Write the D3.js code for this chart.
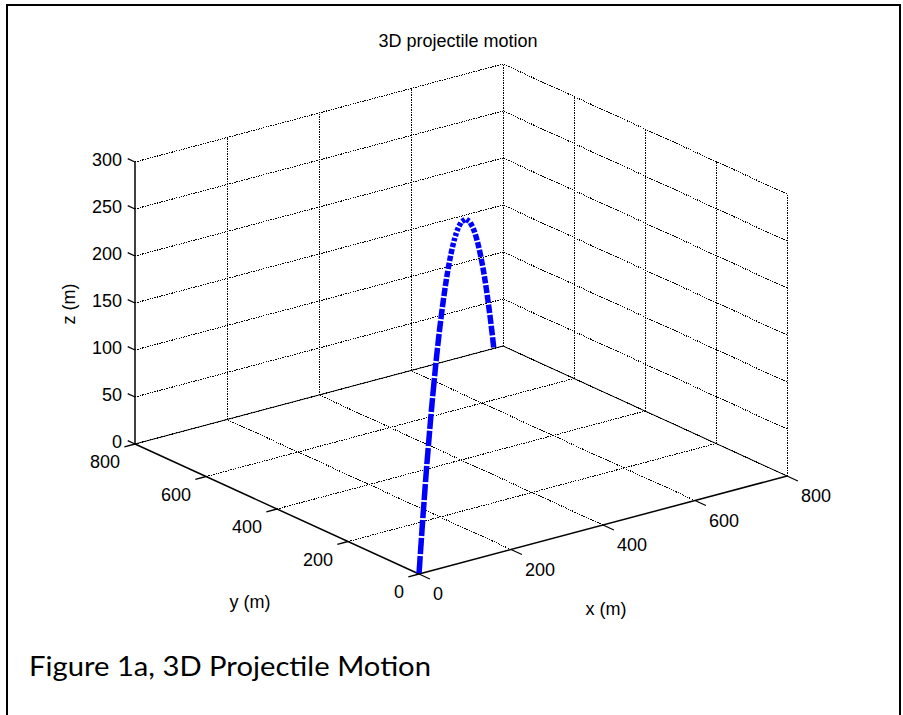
<!DOCTYPE html>
<html>
<head>
<meta charset="utf-8">
<script src="https://cdn.jsdelivr.net/npm/d3@7"></script>
<style>
  body { margin: 0; background: #fff; }
  text { font-family: "Liberation Sans", Arial, sans-serif; fill: #000; }
</style>
</head>
<body>
<svg id="chart" width="903" height="715"></svg>
<script>
// Tick values
const xTicks = [0, 200, 400, 600, 800];
const yTicks = [0, 200, 400, 600, 800];
const zTicks = [0, 50, 100, 150, 200, 250, 300];

// Trajectory samples (m)
const trajX = [0, 13.2, 26.1, 39.2, 52.9, 66.9, 81.4, 96.6, 111.4, 126.8, 141.9, 161.8, 177.6, 194.2, 210.6,
  226.8, 242.7, 258.3, 273.3, 287.9, 301.8, 316.9, 331.3, 347.1, 362.2, 376.5, 392.9, 412.9, 440.9, 486.3,
  530.4, 561.6, 585.0, 608.4, 627.9, 647.4, 664.6, 680.2, 695.0, 709.8, 723.8, 737.9, 751.9, 766.0, 780];
const trajY = [0, 13.5, 26.7, 40.2, 54.2, 68.6, 83.5, 99.0, 114.2, 130.0, 145.5, 165.9, 182.2, 199.2, 216.0,
  232.6, 248.9, 264.9, 280.3, 295.3, 309.5, 325.0, 339.8, 356.0, 371.5, 386.2, 403.0, 423.4, 452.2, 498.7,
  544.0, 576.0, 600.0, 624.0, 644.0, 664.0, 681.6, 697.6, 712.8, 728.0, 742.4, 756.8, 771.2, 785.6, 800];
const trajZ = [0, 16.1, 31.4, 46.4, 61.4, 76.2, 90.9, 105.4, 119.0, 132.3, 144.6, 159.8, 170.9, 181.8, 191.6,
  200.5, 208.3, 215.3, 221.2, 226.3, 230.6, 234.5, 237.5, 240.1, 241.8, 242.7, 243.0, 242.2, 238.9, 228.2,
  211.5, 196.0, 182.3, 166.8, 152.6, 137.1, 122.6, 108.5, 94.4, 79.6, 64.9, 49.7, 33.7, 17.2, 0];

const svg = d3.select('#chart');
svg.append('rect').attr('width', 903).attr('height', 715).attr('fill', '#fff');

// Outer frame
svg.append('rect')
    .attr('x', 7).attr('y', 5)
    .attr('width', 893).attr('height', 720)
    .attr('fill', 'none').attr('stroke', '#000').attr('stroke-width', 2);

// Oblique projection of the 3D box
const origin = [419, 574];
const xToSx = d3.scaleLinear().domain([0, 800]).range([0, 368]);
const xToSy = d3.scaleLinear().domain([0, 800]).range([0, -98]);
const yToSx = d3.scaleLinear().domain([0, 800]).range([0, -284]);
const yToSy = d3.scaleLinear().domain([0, 800]).range([0, -130]);
const zToSy = d3.scaleLinear().domain([0, 300]).range([0, -282]);

function proj(x, y, z) {
    return [origin[0] + xToSx(x) + yToSx(y), origin[1] + xToSy(x) + yToSy(y) + zToSy(z)];
}

const xMax = 800, yMax = 800, zMax = 300;

function seg(g, a, b) {
    g.append('line')
        .attr('x1', a[0]).attr('y1', a[1])
        .attr('x2', b[0]).attr('y2', b[1]);
}

// Grid (dotted)
const grid = svg.append('g')
    .attr('stroke', '#000')
    .attr('stroke-width', 1)
    .attr('stroke-dasharray', '1.5,1')
    .attr('shape-rendering', 'crispEdges')
    .attr('fill', 'none');

// floor z=0
xTicks.filter(v => v > 0).forEach(v => seg(grid, proj(v, 0, 0), proj(v, yMax, 0)));
yTicks.filter(v => v > 0).forEach(v => seg(grid, proj(0, v, 0), proj(xMax, v, 0)));
// back-left wall y=800
xTicks.filter(v => v > 0).forEach(v => seg(grid, proj(v, yMax, 0), proj(v, yMax, zMax)));
zTicks.filter(v => v > 0).forEach(v => seg(grid, proj(0, yMax, v), proj(xMax, yMax, v)));
// back-right wall x=800
yTicks.forEach(v => seg(grid, proj(xMax, v, 0), proj(xMax, v, zMax)));
zTicks.filter(v => v > 0).forEach(v => seg(grid, proj(xMax, 0, v), proj(xMax, yMax, v)));

// floor edges against the walls
const edges = svg.append('g').attr('stroke', '#000').attr('stroke-width', 1);
seg(edges, proj(0, yMax, 0), proj(xMax, yMax, 0));
seg(edges, proj(xMax, 0, 0), proj(xMax, yMax, 0));

// Axes
const axes = svg.append('g').attr('stroke', '#000').attr('stroke-width', 1.5);
seg(axes, proj(0, 0, 0), proj(xMax, 0, 0));
seg(axes, proj(0, 0, 0), proj(0, yMax, 0));
seg(axes, proj(0, yMax, 0), proj(0, yMax, zMax));

// tick directions
function unit(v) { const l = Math.hypot(v[0], v[1]); return [v[0] / l, v[1] / l]; }
const uxNeg = unit([-xToSx(800), -xToSy(800)]);   // -x direction
const uyNeg = unit([-yToSx(800), -yToSy(800)]);   // -y direction
const uyPos = [-uyNeg[0], -uyNeg[1]];

const tickG = svg.append('g').attr('stroke', '#000').attr('stroke-width', 1.3);
const labels = svg.append('g').style('font-size', '18px');

xTicks.forEach(v => {
    const p = proj(v, 0, 0);
    seg(tickG, p, [p[0] + uyNeg[0] * 12, p[1] + uyNeg[1] * 12]);
    labels.append('text')
        .attr('x', p[0] + 14).attr('y', p[1] + 26)
        .attr('text-anchor', 'start')
        .text(v);
});

yTicks.forEach(v => {
    const p = proj(0, v, 0);
    seg(tickG, p, [p[0] + uxNeg[0] * 11, p[1] + uxNeg[1] * 11]);
    labels.append('text')
        .attr('x', p[0] - 15).attr('y', p[1] + 24)
        .attr('text-anchor', 'end')
        .text(v);
});

zTicks.forEach(v => {
    const p = proj(0, yMax, v);
    seg(tickG, p, [p[0] + uyPos[0] * 8, p[1] + uyPos[1] * 8]);
    labels.append('text')
        .attr('x', p[0] - 13).attr('y', p[1] + 3.5)
        .attr('text-anchor', 'end')
        .text(v);
});

// Axis labels and title
labels.append('text').attr('x', 606).attr('y', 615).attr('text-anchor', 'middle').text('x (m)');
labels.append('text').attr('x', 250).attr('y', 608).attr('text-anchor', 'middle').text('y (m)');
labels.append('text')
    .attr('transform', 'translate(75,304) rotate(-90)')
    .attr('text-anchor', 'middle')
    .text('z (m)');
labels.append('text').attr('x', 458).attr('y', 47).attr('text-anchor', 'middle').text('3D projectile motion');

// Trajectory: thick blue segments with small breaks between samples
const pts = trajX.map((x, i) => proj(x, trajY[i], trajZ[i]));
const segs = d3.range(pts.length - 1).map(i => {
    const a = pts[i], b = pts[i + 1];
    const u = unit([b[0] - a[0], b[1] - a[1]]);
    const gap = 0.9;
    return [[a[0] + u[0] * gap, a[1] + u[1] * gap], [b[0] - u[0] * gap, b[1] - u[1] * gap]];
});

svg.append('g')
    .selectAll('line')
    .data(segs)
    .enter()
    .append('line')
    .attr('x1', d => d[0][0]).attr('y1', d => d[0][1])
    .attr('x2', d => d[1][0]).attr('y2', d => d[1][1])
    .attr('stroke', '#0000ff')
    .attr('stroke-width', 5.5)
    .attr('stroke-linecap', 'butt');

// Caption
svg.append('text')
    .attr('x', 29).attr('y', 676)
    .attr('textLength', 402)
    .attr('lengthAdjust', 'spacingAndGlyphs')
    .style('font-family', 'Lato, "Open Sans", sans-serif')
    .style('font-size', '27px')
    .text('Figure 1a, 3D Projectile Motion');
</script>
</body>
</html>
